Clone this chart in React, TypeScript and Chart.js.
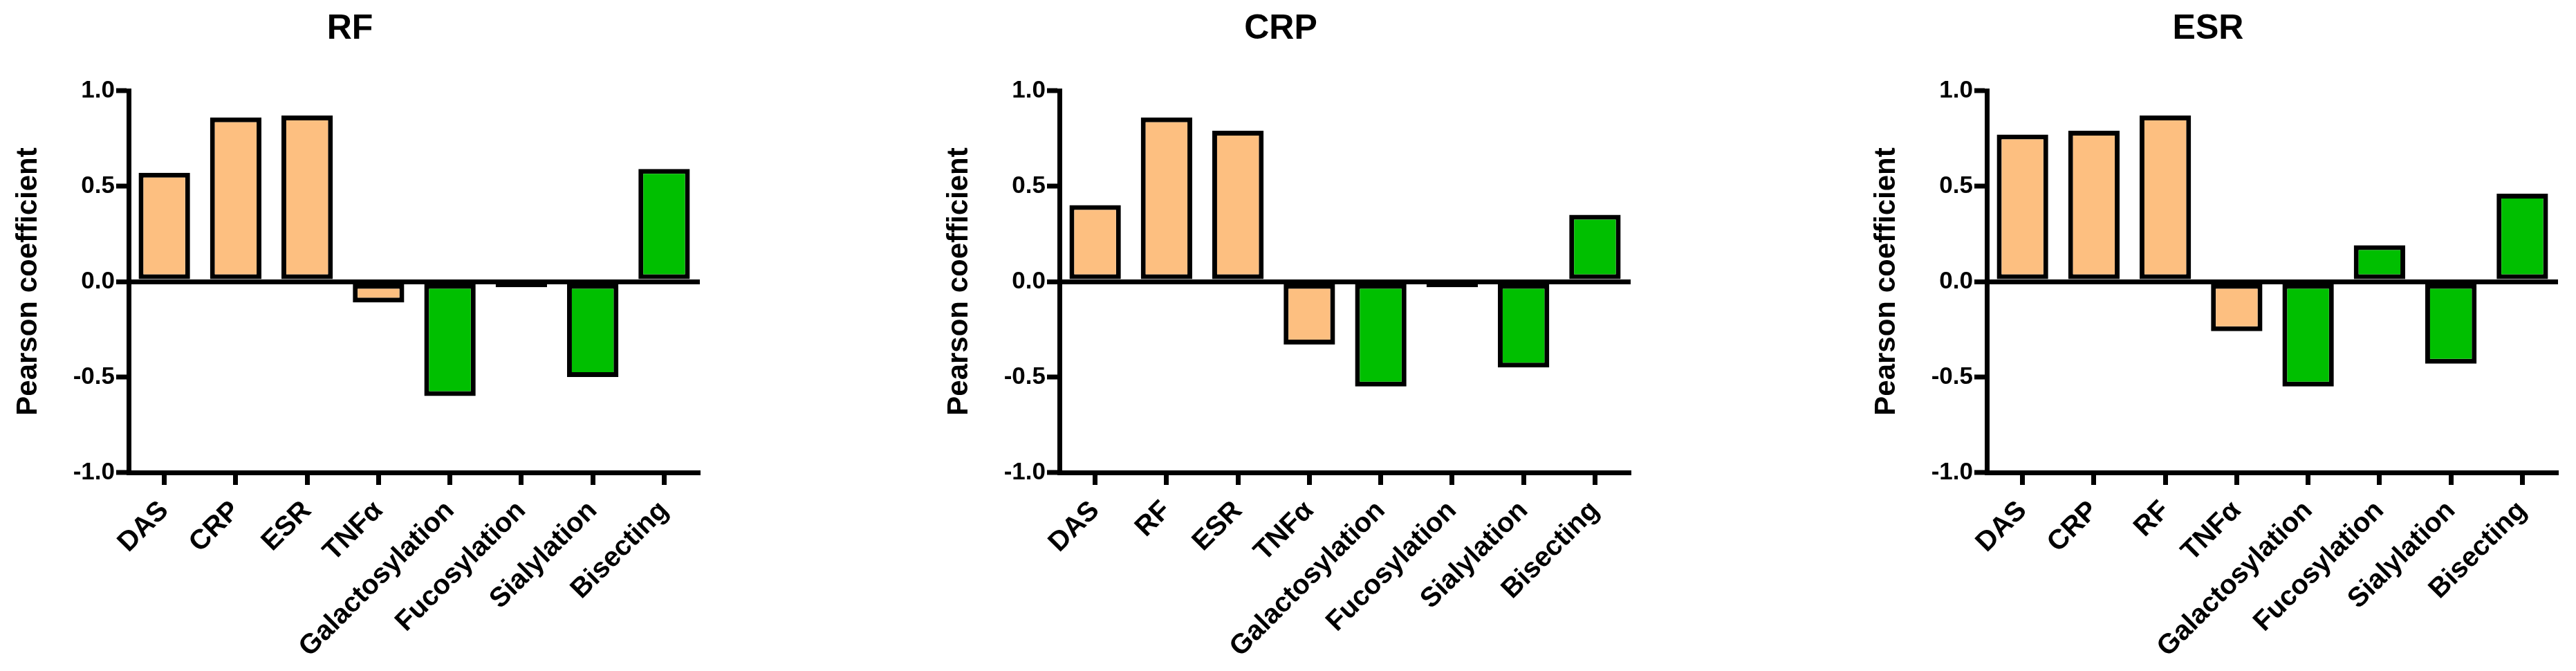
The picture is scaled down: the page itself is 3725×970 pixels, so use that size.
import React, { useEffect, useRef } from 'react'
import { Chart, registerables } from 'chart.js'

Chart.register(...registerables)

const glycoLabels = ['Galactosylation', 'Fucosylation', 'Sialylation', 'Bisecting']

const rfCategories = ['DAS', 'CRP', 'ESR', 'TNFα', ...glycoLabels]
const rfValues = [0.57, 0.86, 0.87, -0.11, -0.6, -0.03, -0.5, 0.59]

const crpCategories = ['DAS', 'RF', 'ESR', 'TNFα', ...glycoLabels]
const crpValues = [0.4, 0.86, 0.79, -0.33, -0.55, -0.03, -0.45, 0.35]

const esrCategories = ['DAS', 'CRP', 'RF', 'TNFα', ...glycoLabels]
const esrValues = [0.77, 0.79, 0.87, -0.26, -0.55, 0.19, -0.43, 0.46]

const yTicks = [-1, -0.5, 0, 0.5, 1]

const FONT = "'Liberation Sans', Arial, sans-serif"
const ORANGE = '#FDBF80'
const GREEN = '#00BF00'

interface PanelProps {
	title: string
	categories: string[]
	values: number[]
	left: number
}

const Panel: React.FC<PanelProps> = ({ title, categories, values, left }) => {
	const chartRef = useRef<HTMLCanvasElement>(null)

	useEffect(() => {
		if (!chartRef.current) return
		const context = chartRef.current.getContext('2d')
		if (!context) return

		const chart = new Chart(context, {
			type: 'bar',
			data: {
				labels: categories,
				datasets: [
					{
						data: values,
						backgroundColor: values.map((_, i) => (i < 4 ? ORANGE : GREEN)),
						borderColor: '#000',
						borderWidth: 7,
						borderSkipped: false,
						barPercentage: 0.72,
						categoryPercentage: 1,
					},
				],
			},
			options: {
				animation: false,
				responsive: true,
				maintainAspectRatio: false,
				layout: { padding: { left: 0, right: 86, top: 0, bottom: 0 } },
				plugins: {
					legend: { display: false },
					tooltip: { enabled: false },
					title: {
						display: true,
						text: title,
						color: '#000',
						font: { family: FONT, size: 50, weight: 'bold', lineHeight: 1.2 },
						padding: { top: 12, bottom: 59 },
					},
				},
				scales: {
					x: {
						grid: {
							display: true,
							drawOnChartArea: false,
							drawTicks: true,
							offset: false,
							tickLength: 18,
							tickWidth: 7,
							tickColor: '#000',
						},
						border: { display: true, width: 7, color: '#000' },
						ticks: {
							minRotation: 45,
							maxRotation: 45,
							autoSkip: false,
							padding: 14,
							color: '#000',
							font: { family: FONT, size: 40, weight: 'bold' },
						},
						afterFit: (scale: any) => {
							scale.height = 287
						},
					},
					y: {
						min: -1,
						max: 1,
						afterBuildTicks: (scale: any) => {
							scale.ticks = yTicks.map((v) => ({ value: v }))
						},
						grid: {
							drawOnChartArea: true,
							color: (ctx: any) => (ctx.tick && ctx.tick.value === 0 ? '#000' : 'rgba(0,0,0,0)'),
							lineWidth: (ctx: any) => (ctx.tick && ctx.tick.value === 0 ? 7 : 0),
							tickLength: 18,
							tickWidth: 7,
							tickColor: '#000',
						},
						border: { display: true, width: 7, color: '#000' },
						ticks: {
							padding: 2,
							color: '#000',
							font: { family: FONT, size: 35, weight: 'bold' },
							callback: (v: any) => Number(v).toFixed(1),
						},
						title: {
							display: true,
							text: 'Pearson coefficient',
							color: '#000',
							font: { family: FONT, size: 42, weight: 'bold', lineHeight: 1.2 },
							padding: { top: 16, bottom: 0 },
						},
						afterFit: (scale: any) => {
							scale.width = 186
						},
					},
				},
			},
		})

		return () => {
			chart.destroy()
		}
	}, [title, categories, values])

	return (
		<div style={{ position: 'absolute', left, top: 0, width: 1098, height: 970 }}>
			<canvas ref={chartRef} />
		</div>
	)
}

const App: React.FC = () => {
	return (
		<div
			style={{
				position: 'fixed',
				left: 0,
				top: 0,
				width: '100vw',
				height: '100vh',
				overflow: 'hidden',
				background: '#fff',
			}}
		>
			<Panel title="RF" categories={rfCategories} values={rfValues} left={0} />
			<Panel title="CRP" categories={crpCategories} values={crpValues} left={1346} />
			<Panel title="ESR" categories={esrCategories} values={esrValues} left={2687} />
		</div>
	)
}

export default App
